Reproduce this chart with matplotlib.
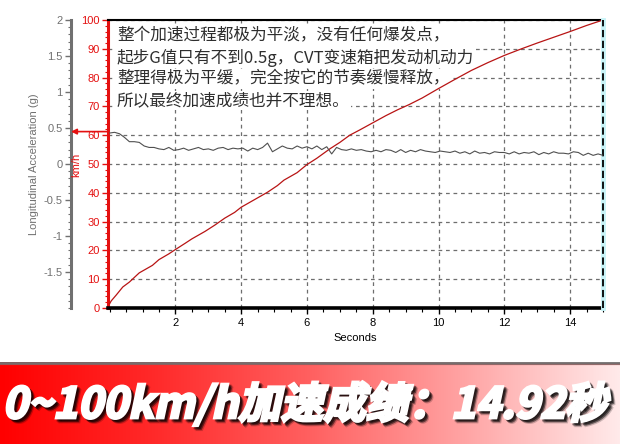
import numpy as np
import matplotlib
matplotlib.use('Agg')
import matplotlib.pyplot as plt
from matplotlib.colors import LinearSegmentedColormap
from matplotlib.textpath import TextPath
from matplotlib.patches import PathPatch
from matplotlib.font_manager import FontProperties
from matplotlib.transforms import Affine2D
from matplotlib.ticker import MultipleLocator, FormatStrFormatter

plt.rcParams['font.family'] = ['Liberation Sans', 'DejaVu Sans']

# vehicle speed trace (km/h)
speed_t = [0.0, 0.05, 0.2, 0.4, 0.6, 0.9, 1.1, 1.3, 1.5, 1.8, 2.0, 2.3, 2.5, 2.7,
           2.9, 3.2, 3.5, 3.8, 4.0, 4.4, 4.8, 5.1, 5.3, 5.7, 6.0, 6.3, 6.7, 7.0,
           7.3, 7.6, 8.0, 8.4, 8.75, 9.1, 9.5, 10.0, 10.5, 11.0, 11.5, 12.0, 12.5,
           13.0, 13.5, 14.0, 14.5, 15.0]
speed_kmh = [1.5, 2.5, 4.5, 7.3, 9.0, 12.2, 13.5, 14.8, 16.8, 18.8, 20.3, 22.5, 24.0, 25.3,
             26.6, 28.8, 31.2, 33.2, 35.0, 37.6, 40.2, 42.5, 44.4, 47.0, 49.8, 52.0, 55.3, 57.5,
             60.0, 61.8, 64.3, 66.8, 68.8, 70.6, 72.9, 76.2, 79.4, 82.5, 85.2, 87.7, 89.9,
             92.0, 94.0, 96.0, 98.1, 100.0]

# longitudinal acceleration (g), sampled every 0.15 s
accel_t = np.linspace(0, 15, 101)
accel_g = [0.43, 0.44, 0.42, 0.37, 0.31, 0.31, 0.30, 0.25, 0.23, 0.23,
           0.21, 0.20, 0.23, 0.19, 0.20, 0.22, 0.19, 0.21, 0.23, 0.20,
           0.21, 0.19, 0.22, 0.23, 0.20, 0.22, 0.21, 0.22, 0.18, 0.22,
           0.20, 0.23, 0.29, 0.17, 0.21, 0.25, 0.22, 0.21, 0.25, 0.22,
           0.24, 0.21, 0.25, 0.20, 0.24, 0.14, 0.23, 0.20, 0.19, 0.21,
           0.19, 0.20, 0.18, 0.17, 0.19, 0.17, 0.20, 0.19, 0.16, 0.20,
           0.16, 0.19, 0.17, 0.20, 0.18, 0.17, 0.16, 0.18, 0.17, 0.16,
           0.18, 0.15, 0.17, 0.14, 0.18, 0.15, 0.16, 0.14, 0.17, 0.16,
           0.16, 0.14, 0.17, 0.14, 0.16, 0.15, 0.17, 0.13, 0.16, 0.14,
           0.17, 0.15, 0.15, 0.14, 0.17, 0.16, 0.12, 0.15, 0.12, 0.14, 0.12]
peak_g = 0.45

x_ticks = [2, 4, 6, 8, 10, 12, 14]
speed_ticks = [0, 10, 20, 30, 40, 50, 60, 70, 80, 90, 100]
accel_ticks = [-1.5, -1, -0.5, 0, 0.5, 1, 1.5, 2]

note_lines = ['整个加速过程都极为平淡，没有任何爆发点，',
              '起步G值只有不到0.5g，CVT变速箱把发动机动力',
              '整理得极为平缓，完全按它的节奏缓慢释放，',
              '所以最终加速成绩也并不理想。']
banner_text = '0~100km/h加速成绩：14.92秒'

RED = '#e41010'
GRAY = '#707070'
W, H = 620, 444

fig = plt.figure(figsize=(6.2, 4.44), dpi=100)
fig.patch.set_facecolor('white')
ax = fig.add_axes([108 / W, 1 - 308 / H, (603 - 108) / W, (308 - 20) / H])
ax2 = ax.twinx()

ax.plot(speed_t, speed_kmh, color='#b81414', lw=0.9, zorder=3)
ax2.plot(accel_t, accel_g, color='#505050', lw=0.8)

ax.set_xlim(-0.05, 15.0)
ax.set_ylim(0, 100)
ax2.set_ylim(-2, 2)

ax.set_xticks(x_ticks)
ax.xaxis.set_minor_locator(MultipleLocator(0.5))
ax.set_yticks(speed_ticks)
ax.yaxis.set_minor_locator(MultipleLocator(2))
ax.grid(True, which='major', color='#6e6e6e', linestyle=(0, (3, 3)), linewidth=0.9)
ax.tick_params(axis='x', which='major', length=4, width=1, colors='black', labelsize=8, pad=3)
ax.tick_params(axis='x', which='minor', length=3, width=0.8, colors='black')
ax.tick_params(axis='y', which='major', length=4, width=1, colors=RED, labelsize=8, pad=2)
ax.tick_params(axis='y', which='minor', length=2, width=0.8, colors=RED)
ax.set_xlabel('Seconds', fontsize=8, labelpad=4)

ax.spines['left'].set_color(RED)
ax.spines['left'].set_linewidth(2.2)
ax.spines['bottom'].set_color('black')
ax.spines['bottom'].set_linewidth(2.6)
ax.spines['top'].set_color('black')
ax.spines['top'].set_linewidth(1.5)
ax.spines['right'].set_visible(False)
ax.plot([1, 1], [0, 1], transform=ax.transAxes, color='#c8f4f8', lw=3.5, clip_on=False, zorder=4)
ax.plot([1, 1], [0, 1], transform=ax.transAxes, color='black', lw=1.3,
        linestyle=(0, (4, 2)), clip_on=False, zorder=5)

# acceleration axis on the far left
for s in ['top', 'right', 'bottom']:
    ax2.spines[s].set_visible(False)
ax2.spines['left'].set_visible(True)
ax2.spines['left'].set_position(('axes', -0.0747))
ax2.spines['left'].set_color(GRAY)
ax2.spines['left'].set_linewidth(2.2)
ax2.yaxis.tick_left()
ax2.yaxis.set_label_position('left')
ax2.set_yticks(accel_ticks)
ax2.yaxis.set_major_formatter(FormatStrFormatter('%g'))
ax2.yaxis.set_minor_locator(MultipleLocator(0.1))
ax2.tick_params(axis='y', which='major', length=4, width=1, colors=GRAY, labelsize=8, pad=2)
ax2.tick_params(axis='y', which='minor', length=2, width=0.8, colors=GRAY)
ax2.set_ylabel('Longitudinal Acceleration (g)', color=GRAY, fontsize=8, labelpad=3)

ax2.annotate('', xy=(-0.0747, peak_g), xycoords=ax2.get_yaxis_transform(),
             xytext=(0, peak_g), textcoords=ax2.get_yaxis_transform(),
             arrowprops=dict(arrowstyle='-|>', color=RED, lw=1.2, mutation_scale=8,
                             shrinkA=0, shrinkB=0), annotation_clip=False)
fig.text(76 / W, 1 - 165 / H, 'km/h', rotation=90, color=RED, fontsize=8,
         ha='center', va='center')

# commentary text (above the grid, below the speed trace)
line_y = [36, 57.5, 79, 100.5]
for txt, yy in zip(note_lines, line_y):
    ax.text(117 / W, 1 - yy / H, txt, transform=fig.transFigure, fontsize=12,
            family=['Noto Sans CJK SC', 'DejaVu Sans'], color='#2e2e2e',
            ha='left', va='center', zorder=2.5,
            bbox=dict(facecolor='white', edgecolor='none', pad=1.0))

# result banner
axb = fig.add_axes([0, 0, 1, 82 / H])
axb.set_xlim(0, W)
axb.set_ylim(0, 82)
axb.axis('off')
cmap = LinearSegmentedColormap.from_list('banner', ['#ff0000', '#ff2a2a', '#ff6060',
                                                   '#ffa4a4', '#ffeaea'])
axb.imshow(np.linspace(0, 1, 256).reshape(1, -1), cmap=cmap, aspect='auto',
           extent=[0, W, 0, 82], zorder=0)
axb.plot([0, W], [81.5, 81.5], color='#707070', lw=2, zorder=1)
axb.plot([0, W], [80.0, 80.0], color='#b05050', lw=1, alpha=0.4, zorder=1)

fp = FontProperties(family='Noto Sans CJK SC', weight='heavy')
tp = TextPath((0, 0), banner_text, size=100, prop=fp)
skew = Affine2D().skew_deg(12, 0)
e = skew.transform_path(tp).get_extents()
sc = 603 / e.width
place = Affine2D().skew_deg(12, 0).scale(sc).translate(7 - e.x0 * sc, 26)
for dx, dy, a in [(4.0, -4.0, 0.2), (3.0, -3.0, 0.35), (2.0, -2.0, 0.45)]:
    axb.add_patch(PathPatch(tp, transform=place + Affine2D().translate(dx, dy) + axb.transData,
                            facecolor='black', edgecolor='black', lw=2.0, alpha=a, zorder=2))
axb.add_patch(PathPatch(tp, transform=place + axb.transData,
                        facecolor='white', edgecolor='white', lw=2.0, zorder=3))

fig.savefig('out.png', dpi=100)
